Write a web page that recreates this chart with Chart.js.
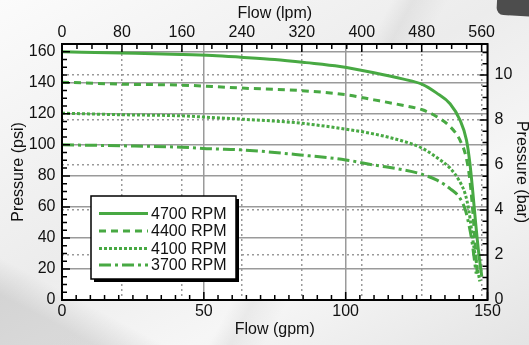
<!DOCTYPE html>
<html lang="en">
<head>
<meta charset="UTF-8">
<title>Pump Performance</title>
<script src="https://cdn.jsdelivr.net/npm/chart.js@4.4.0/dist/chart.umd.min.js"></script>
<style>
    body {
        margin: 0;
        width: 529px;
        height: 345px;
        overflow: hidden;
        position: relative;
        font-family: 'Liberation Sans', Arial, sans-serif;
        background:
            linear-gradient(118deg, transparent 0 55%, rgba(0,0,0,0.05) 58%, transparent 63%),
            linear-gradient(28deg, rgba(0,0,0,0.10) 0 8%, transparent 14% 100%),
            linear-gradient(150deg, #fbfbfb 0%, #ececec 45%, #f6f6f6 70%, #e4e4e4 100%);
    }
    .corner {
        position: absolute;
        left: 497px;
        top: -12px;
        width: 50px;
        height: 28px;
        background: #4d4d4d;
        border-radius: 7px;
        transform: rotate(3deg);
    }
    #chart {
        position: absolute;
        left: 0;
        top: 0;
    }
</style>
</head>
<body>
<div class="corner"></div>
<canvas id="chart" width="529" height="345"></canvas>

<script>
    // Pump curves: flow in gpm, pressure in psi
    const rpmLabels = ['4700 RPM', '4400 RPM', '4100 RPM', '3700 RPM'];

    const flow4700 = [0, 21, 42, 53, 63, 75, 86, 98, 110, 120, 127, 132, 136.8, 140.3, 142.6, 143.8, 144.8, 145.8, 146.8, 148];
    const psi4700  = [160, 159.2, 158.3, 157.6, 156.5, 155, 153, 150.5, 146.5, 142.5, 139, 133.5, 126.5, 116, 103, 88, 70, 50, 32, 15];

    const flow4400 = [0, 21, 42, 53, 63, 84, 100, 110, 120, 127, 132, 136.8, 140.3, 142.4, 143.6, 144.6, 145.5, 146.5];
    const psi4400  = [140.4, 139.1, 138.5, 137.6, 136.6, 135, 132.3, 129, 125.5, 122.6, 118.3, 111.8, 103, 92.5, 80, 62, 40, 14];

    const flow4100 = [0, 21, 42, 53, 63, 84, 100, 110, 120, 127, 132, 136.8, 140, 142.2, 143.4, 144.4, 145.3, 146.3, 147.3];
    const psi4100  = [120.4, 119.4, 118.7, 117.6, 116.6, 114, 110.1, 107, 102.5, 97.8, 92, 85, 77, 68, 58, 45, 33, 22, 12];

    const flow3700 = [0, 21, 42, 53, 63, 84, 100, 110, 120, 126, 132, 137, 140.3, 142.2, 143.5, 144.5, 145.3, 146];
    const psi3700  = [100, 99.4, 98.5, 97.4, 96.8, 93.5, 90.3, 87, 84, 81.5, 77.4, 71.5, 65.6, 58, 48, 38, 27, 17];

    // axis ranges and tick steps
    const gpmMax = 150;
    const psiMax = 165;
    const LPM_PER_GPM = 3.78541;
    const PSI_PER_BAR = 14.5038;
    const gpmTicks = 50, lpmTicks = 80, psiTicks = 20, barTicks = 2;

    const flows = [flow4700, flow4400, flow4100, flow3700];
    const pressures = [psi4700, psi4400, psi4100, psi3700];
    const dashes = [[], [7, 5], [3, 2], [12, 4, 3, 4]];
    const green = '#48a943';

    const datasets = rpmLabels.map((label, i) => ({
        label: label,
        data: flows[i].map((f, j) => ({ x: f, y: pressures[i][j] })),
        borderColor: green,
        borderWidth: 3,
        borderDash: dashes[i],
        pointRadius: 0,
        fill: false,
        cubicInterpolationMode: 'monotone',
        xAxisID: 'x',
        yAxisID: 'y'
    }));

    const labelFont = { family: "'Liberation Sans', Arial, sans-serif", size: 16, lineHeight: 1 };
    const solidGrid = { color: '#9a9a9a', lineWidth: 1.5, drawTicks: false };
    const dotGrid = { color: '#9a9a9a', lineWidth: 1.5, drawTicks: false };

    // white plot area under the grid
    const plotBackground = {
        id: 'plotBackground',
        beforeDraw(chart) {
            const a = chart.chartArea;
            const ctx = chart.ctx;
            ctx.save();
            ctx.fillStyle = '#ffffff';
            ctx.fillRect(a.left, a.top, a.right - a.left, a.bottom - a.top);
            ctx.restore();
        }
    };

    // frame, inward ticks and boxed legend
    const frameAndLegend = {
        id: 'frameAndLegend',
        afterDraw(chart) {
            const ctx = chart.ctx;
            const a = chart.chartArea;
            const s = chart.scales;
            ctx.save();
            ctx.strokeStyle = '#000';
            ctx.lineWidth = 1.5;
            ctx.setLineDash([]);

            function tickRun(scale, step, major, max, draw) {
                for (let v = 0; v <= max + 1e-6; v += step) {
                    const isMajor = Math.abs(v / major - Math.round(v / major)) < 1e-6;
                    draw(scale.getPixelForValue(v), isMajor ? 8 : 5);
                }
            }
            ctx.beginPath();
            tickRun(s.x, 5, gpmTicks, gpmMax, (p, len) => { ctx.moveTo(p, a.bottom); ctx.lineTo(p, a.bottom - len); });
            tickRun(s.x2, 20, lpmTicks, gpmMax * LPM_PER_GPM, (p, len) => { ctx.moveTo(p, a.top); ctx.lineTo(p, a.top + len); });
            tickRun(s.y, 5, psiTicks, psiMax, (p, len) => { ctx.moveTo(a.left, p); ctx.lineTo(a.left + len, p); });
            tickRun(s.y2, 0.5, barTicks, psiMax / PSI_PER_BAR, (p, len) => { ctx.moveTo(a.right, p); ctx.lineTo(a.right - len, p); });
            ctx.stroke();

            ctx.lineWidth = 2;
            ctx.strokeRect(a.left, a.top, a.right - a.left, a.bottom - a.top);

            // legend box with drop shadow
            const bx = 91, by = 196, bw = 145, bh = 83;
            ctx.fillStyle = '#000';
            ctx.fillRect(bx + 3, by + 3, bw, bh);
            ctx.fillStyle = '#fff';
            ctx.fillRect(bx, by, bw, bh);
            ctx.lineWidth = 1.5;
            ctx.strokeRect(bx, by, bw, bh);

            const rows = [213.5, 231, 248.5, 265];
            ctx.font = "16px 'Liberation Sans', Arial, sans-serif";
            ctx.textBaseline = 'middle';
            ctx.textAlign = 'left';
            chart.data.datasets.forEach((ds, i) => {
                ctx.strokeStyle = ds.borderColor;
                ctx.lineWidth = ds.borderWidth;
                ctx.setLineDash(ds.borderDash);
                ctx.beginPath();
                ctx.moveTo(99, rows[i]);
                ctx.lineTo(148, rows[i]);
                ctx.stroke();
                ctx.fillStyle = '#111';
                ctx.fillText(ds.label, 151, rows[i] + 1);
            });
            ctx.restore();
        }
    };

    new Chart(document.getElementById('chart'), {
        type: 'line',
        data: { datasets: datasets },
        options: {
            responsive: false,
            animation: false,
            layout: { padding: 0 },
            plugins: {
                legend: { display: false },
                tooltip: { enabled: false }
            },
            scales: {
                x: {
                    type: 'linear',
                    position: 'bottom',
                    min: 0,
                    max: gpmMax,
                    ticks: { stepSize: gpmTicks, padding: 4, color: '#111', font: labelFont, maxRotation: 0 },
                    grid: solidGrid,
                    border: { display: false },
                    title: { display: true, text: 'Flow (gpm)', color: '#111', font: labelFont, padding: { top: 0, bottom: 7.5 } },
                    afterFit: sc => { sc.height = 45; }
                },
                x2: {
                    type: 'linear',
                    position: 'top',
                    min: 0,
                    max: gpmMax * LPM_PER_GPM,
                    ticks: { stepSize: lpmTicks, includeBounds: false, padding: 3.5, color: '#111', font: labelFont, maxRotation: 0 },
                    grid: dotGrid,
                    border: { display: false, dash: [2, 3] },
                    title: { display: true, text: 'Flow (lpm)', color: '#111', font: labelFont, padding: { top: 5.5, bottom: 0 } },
                    afterFit: sc => { sc.height = 44; }
                },
                y: {
                    type: 'linear',
                    position: 'left',
                    min: 0,
                    max: psiMax,
                    ticks: { stepSize: psiTicks, includeBounds: false, padding: 6.5, color: '#111', font: labelFont },
                    grid: solidGrid,
                    border: { display: false },
                    title: { display: true, text: 'Pressure (psi)', color: '#111', font: labelFont, padding: { top: 10.5, bottom: 0 } },
                    afterFit: sc => { sc.width = 62; }
                },
                y2: {
                    type: 'linear',
                    position: 'right',
                    min: 0,
                    max: psiMax / PSI_PER_BAR,
                    ticks: { stepSize: barTicks, includeBounds: false, padding: 7, color: '#111', font: labelFont },
                    grid: dotGrid,
                    border: { display: false, dash: [2, 3] },
                    title: { display: true, text: 'Pressure (bar)', color: '#111', font: labelFont, padding: { top: 0, bottom: 0 } },
                    afterFit: sc => { sc.width = 41.5; }
                }
            }
        },
        plugins: [plotBackground, frameAndLegend]
    });
</script>
</body>
</html>
